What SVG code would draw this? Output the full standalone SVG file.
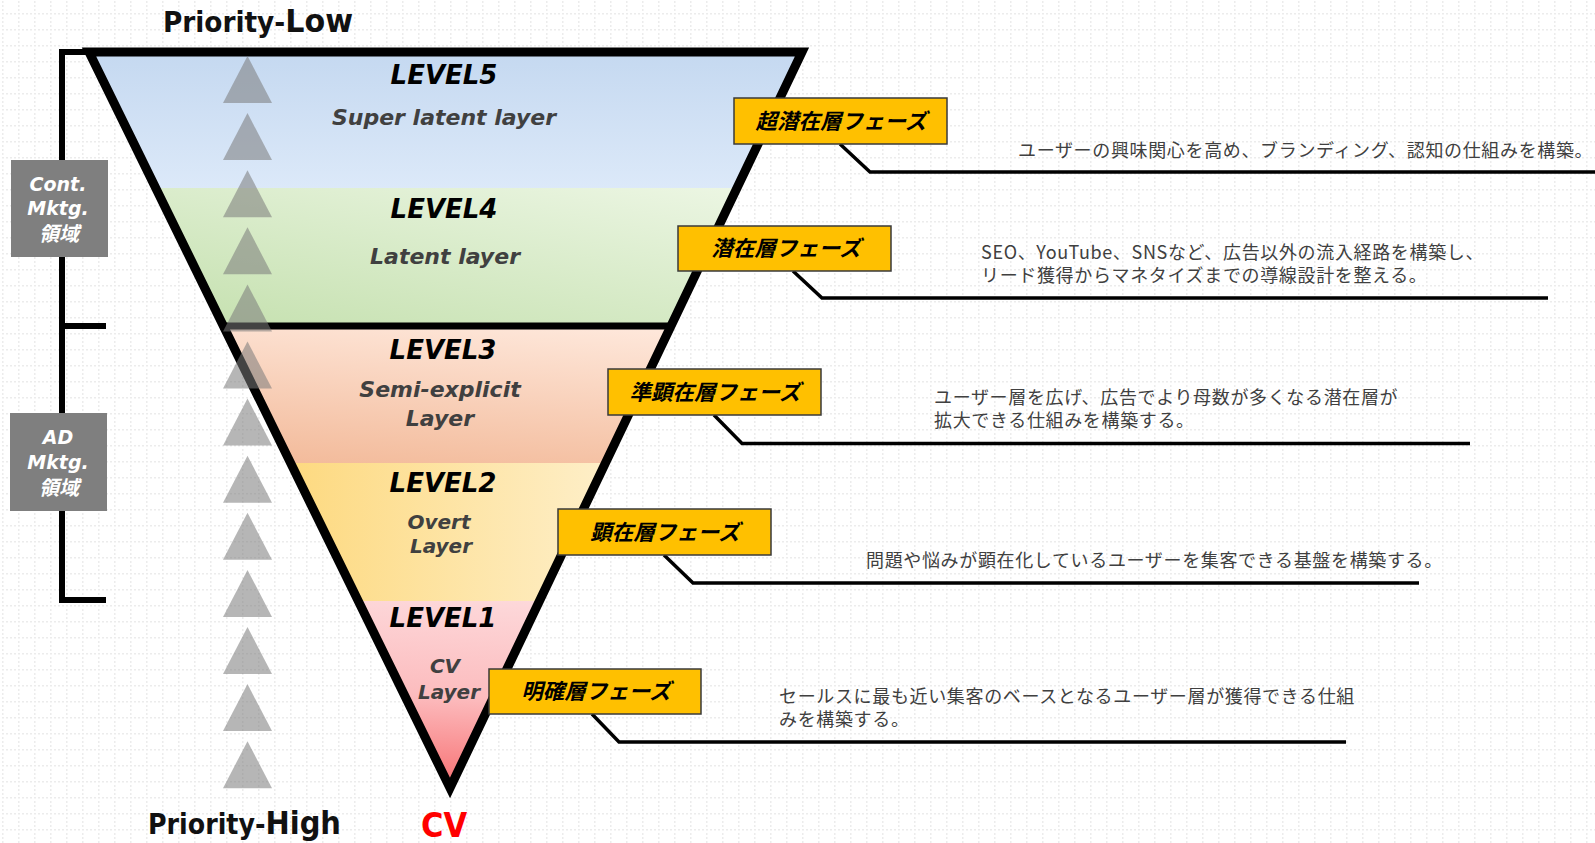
<svg xmlns="http://www.w3.org/2000/svg" width="1595" height="843" viewBox="0 0 1595 843">
<style>
.lvl{font-family:"DejaVu Sans",Verdana,sans-serif;font-weight:bold;font-style:italic;font-size:26px;fill:#000;text-anchor:middle}
.sub{font-family:"DejaVu Sans",Verdana,sans-serif;font-weight:bold;font-style:italic;font-size:22px;fill:#404040;text-anchor:middle}
.sub2{font-size:20px}
.pri{font-family:"DejaVu Sans Condensed","DejaVu Sans",sans-serif;font-stretch:condensed;font-weight:bold;fill:#111}
.phase{fill:#ffc000;stroke:#3a3a3a;stroke-width:1.5}
.ptxt{font-family:"Noto Sans CJK JP",sans-serif;font-weight:bold;font-style:italic;font-size:21.5px;text-anchor:middle;fill:#000}
.desc{font-family:"Noto Sans CJK JP",sans-serif;font-size:18px;letter-spacing:0.65px;fill:#404040}
.lead{fill:none;stroke:#000;stroke-width:3.5}
.gbox{fill:#7f7f7f}
.gtxt{font-family:"DejaVu Sans",Verdana,"Noto Sans CJK JP",sans-serif;font-weight:bold;font-style:italic;font-size:19px;fill:#fff;text-anchor:middle}
.gcjk{font-family:"Noto Sans CJK JP",sans-serif;font-size:20px}
.tri{fill:#7a7a7a;fill-opacity:.55}
.brk{fill:none;stroke:#000;stroke-width:6}
</style>
<defs>
<pattern id="grid" x="2" y="13" width="16" height="16" patternUnits="userSpaceOnUse">
<rect x="0" y="0" width="2" height="1.5" fill="#ececec"/>
<rect x="4" y="0" width="2" height="1.5" fill="#ececec"/>
<rect x="8" y="0" width="2" height="1.5" fill="#ececec"/>
<rect x="12" y="0" width="2" height="1.5" fill="#ececec"/>
<rect x="0" y="4" width="1.5" height="2" fill="#ececec"/>
<rect x="0" y="8" width="1.5" height="2" fill="#ececec"/>
<rect x="0" y="12" width="1.5" height="2" fill="#ececec"/>
</pattern>
<linearGradient id="gBlue" x1="0" y1="0" x2="0" y2="1"><stop offset="0" stop-color="#c4d8f0"/><stop offset="1" stop-color="#dce9f9"/></linearGradient>
<linearGradient id="gGreen" x1="1" y1="0" x2="0" y2="1"><stop offset="0" stop-color="#eef7e6"/><stop offset="1" stop-color="#c2dfab"/></linearGradient>
<linearGradient id="gPeach" x1="0.7" y1="0" x2="0.3" y2="1"><stop offset="0" stop-color="#fee7da"/><stop offset="1" stop-color="#f3bb9b"/></linearGradient>
<linearGradient id="gYellow" x1="0" y1="0" x2="1" y2="0"><stop offset="0.2" stop-color="#fdd571"/><stop offset="0.75" stop-color="#fef0cd"/><stop offset="1" stop-color="#fff5de"/></linearGradient>
<linearGradient id="gPink" x1="0.6" y1="0" x2="0.4" y2="1"><stop offset="0" stop-color="#fdd8da"/><stop offset="0.5" stop-color="#fcbcbe"/><stop offset="1" stop-color="#f76a6c"/></linearGradient>
<clipPath id="funnelClip"><polygon points="89,52 802,52 450,788"/></clipPath>
</defs>

<rect width="1595" height="843" fill="#fff"/>
<rect width="1595" height="843" fill="url(#grid)"/>

<g id="funnel">
<g clip-path="url(#funnelClip)">
<rect x="80" y="48" width="730" height="141" fill="url(#gBlue)"/>
<rect x="80" y="188" width="730" height="139" fill="url(#gGreen)"/>
<rect x="80" y="326" width="730" height="138" fill="url(#gPeach)"/>
<rect x="80" y="463" width="730" height="139" fill="url(#gYellow)"/>
<rect x="80" y="601" width="730" height="190" fill="url(#gPink)"/>
</g>
<polygon points="89,52 802,52 450,788" fill="none" stroke="#000" stroke-width="9" stroke-linejoin="miter"/>
<line x1="220" y1="326" x2="674" y2="326" stroke="#000" stroke-width="7"/>
</g>

<g id="bracket">
<polyline class="brk" points="89,52 62,52 62,600 106,600"/>
<line class="brk" x1="62" y1="326" x2="106" y2="326"/>
</g>

<g id="area-cont">
<rect class="gbox" x="11" y="160" width="97" height="97"/>
<text class="gtxt" x="58" y="191">Cont.</text>
<text class="gtxt" x="58" y="215">Mktg.</text>
<text class="gtxt gcjk" x="59" y="241">領域</text>
</g>
<g id="area-ad">
<rect class="gbox" x="10" y="413" width="97" height="98"/>
<text class="gtxt" x="58" y="444">AD</text>
<text class="gtxt" x="58" y="469">Mktg.</text>
<text class="gtxt gcjk" x="59" y="495">領域</text>
</g>

<g id="level5">
<text class="lvl" x="444" y="84">LEVEL5</text>
<text class="sub" x="444" y="125">Super latent layer</text>
</g>
<g id="level4">
<text class="lvl" x="444" y="218">LEVEL4</text>
<text class="sub" x="445" y="264">Latent layer</text>
</g>
<g id="level3">
<text class="lvl" x="443" y="359">LEVEL3</text>
<text class="sub" x="440" y="397">Semi-explicit</text>
<text class="sub" x="440" y="426">Layer</text>
</g>
<g id="level2">
<text class="lvl" x="443" y="492">LEVEL2</text>
<text class="sub sub2" x="439" y="529">Overt</text>
<text class="sub sub2" x="441" y="553">Layer</text>
</g>
<g id="level1">
<text class="lvl" x="443" y="627">LEVEL1</text>
<text class="sub sub2" x="445" y="673">CV</text>
<text class="sub sub2" x="449" y="699">Layer</text>
</g>

<g id="priority-arrows">
<polygon class="tri" points="247.5,56 272,103 223,103"/>
<polygon class="tri" points="247.5,113.1 272,160.1 223,160.1"/>
<polygon class="tri" points="247.5,170.2 272,217.2 223,217.2"/>
<polygon class="tri" points="247.5,227.3 272,274.3 223,274.3"/>
<polygon class="tri" points="247.5,284.4 272,331.4 223,331.4"/>
<polygon class="tri" points="247.5,341.5 272,388.5 223,388.5"/>
<polygon class="tri" points="247.5,398.6 272,445.6 223,445.6"/>
<polygon class="tri" points="247.5,455.7 272,502.7 223,502.7"/>
<polygon class="tri" points="247.5,512.8 272,559.8 223,559.8"/>
<polygon class="tri" points="247.5,569.9 272,616.9 223,616.9"/>
<polygon class="tri" points="247.5,627 272,674 223,674"/>
<polygon class="tri" points="247.5,684.1 272,731.1 223,731.1"/>
<polygon class="tri" points="247.5,741.2 272,788.2 223,788.2"/>
</g>

<g id="priority-low">
<text class="pri" x="163" y="32" textLength="190" lengthAdjust="spacingAndGlyphs"><tspan font-size="28">Priority-</tspan><tspan font-size="32">Low</tspan></text>
</g>
<g id="priority-high">
<text class="pri" x="148" y="834" textLength="193" lengthAdjust="spacingAndGlyphs"><tspan font-size="28">Priority-</tspan><tspan font-size="32">High</tspan></text>
</g>
<g id="cv">
<text class="pri" x="444" y="837" font-size="34" style="fill:#ff0000" text-anchor="middle">CV</text>
</g>

<g id="connectors">
<polyline class="lead" points="840,144 870,172 1595,172"/>
<polyline class="lead" points="793,271 822,298 1548,298"/>
<polyline class="lead" points="714,415 742,443.5 1470,443.5"/>
<polyline class="lead" points="664,555 693,583 1419,583"/>
<polyline class="lead" points="592,714 619,742 1346,742"/>
</g>

<g id="phase5">
<rect class="phase" x="734" y="98" width="213" height="46"/>
<text class="ptxt" x="841" y="129">超潜在層フェーズ</text>
</g>
<g id="phase4">
<rect class="phase" x="678" y="226" width="213" height="45"/>
<text class="ptxt" x="786" y="256">潜在層フェーズ</text>
</g>
<g id="phase3">
<rect class="phase" x="608" y="369" width="213" height="46"/>
<text class="ptxt" x="715" y="400">準顕在層フェーズ</text>
</g>
<g id="phase2">
<rect class="phase" x="558" y="509" width="213" height="46"/>
<text class="ptxt" x="665" y="540">顕在層フェーズ</text>
</g>
<g id="phase1">
<rect class="phase" x="489" y="669" width="212" height="45"/>
<text class="ptxt" x="596" y="699">明確層フェーズ</text>
</g>

<g id="desc5">
<text class="desc" x="1018" y="157">ユーザーの興味関心を高め、ブランディング、認知の仕組みを構築。</text>
</g>
<g id="desc4">
<text class="desc" x="981" y="259">SEO、YouTube、SNSなど、広告以外の流入経路を構築し、</text>
<text class="desc" x="981" y="282">リード獲得からマネタイズまでの導線設計を整える。</text>
</g>
<g id="desc3">
<text class="desc" x="934" y="404">ユーザー層を広げ、広告でより母数が多くなる潜在層が</text>
<text class="desc" x="934" y="427">拡大できる仕組みを構築する。</text>
</g>
<g id="desc2">
<text class="desc" x="866" y="567">問題や悩みが顕在化しているユーザーを集客できる基盤を構築する。</text>
</g>
<g id="desc1">
<text class="desc" x="779" y="703">セールスに最も近い集客のベースとなるユーザー層が獲得できる仕組</text>
<text class="desc" x="779" y="726">みを構築する。</text>
</g>
</svg>
